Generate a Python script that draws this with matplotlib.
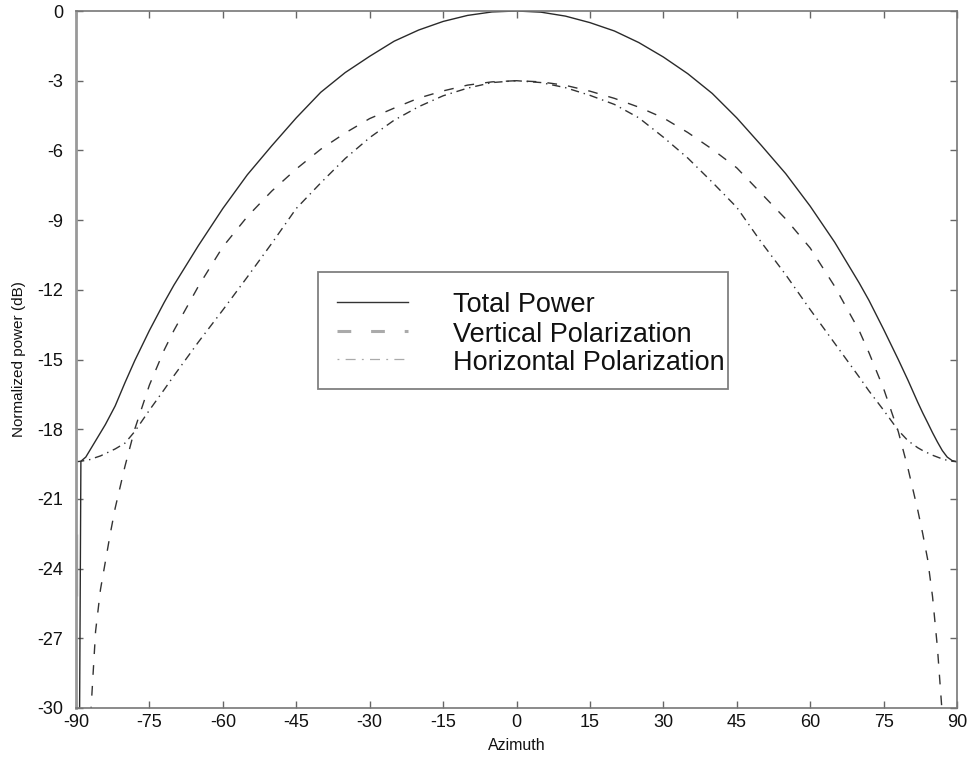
import matplotlib
matplotlib.use("Agg")
import matplotlib.pyplot as plt
from matplotlib.patches import Rectangle
from matplotlib.lines import Line2D

plt.rcParams['font.family'] = ['Liberation Sans', 'DejaVu Sans']

# ---------------- data ----------------
az_left = [-90, -89, -88, -87, -86, -85, -84, -83, -82, -80, -78, -75, -72, -70,
           -65, -60, -55, -50, -45, -40, -35, -30, -25, -20, -15, -10, -5, 0]
total_left = [-60.0, -19.38, -19.2, -18.85, -18.5, -18.15, -17.8, -17.4, -17.0, -16.0,
              -15.05, -13.75, -12.55, -11.8, -10.1, -8.5, -7.05, -5.8, -4.6, -3.5,
              -2.65, -1.95, -1.3, -0.82, -0.45, -0.19, -0.04, 0.0]
vert_left = [-60.0, -40.0, -33.5, -30.3, -26.7, -24.9, -23.7, -22.5, -21.4, -19.6,
             -18.0, -16.1, -14.6, -13.75, -11.85, -10.15, -8.85, -7.75, -6.8, -5.95,
             -5.25, -4.63, -4.18, -3.75, -3.44, -3.19, -3.05, -3.0]
horiz_left = [-19.4, -19.38, -19.34, -19.3, -19.22, -19.15, -19.05, -18.95, -18.85,
              -18.6, -18.1, -17.18, -16.3, -15.7, -14.25, -12.87, -11.45, -10.0, -8.5,
              -7.4, -6.35, -5.45, -4.7, -4.12, -3.65, -3.32, -3.08, -3.0]

az_right = [5, 10, 15, 20, 25, 30, 35, 40, 45, 50, 55, 60, 65, 70, 72, 75, 78, 80,
            82, 83, 84, 85, 86, 87, 88, 89, 90]
total_right = [-0.05, -0.22, -0.5, -0.86, -1.36, -1.98, -2.7, -3.55, -4.6, -5.78,
               -7.0, -8.4, -9.95, -11.7, -12.45, -13.7, -15.0, -15.9, -16.85,
               -17.3, -17.72, -18.15, -18.55, -18.92, -19.2, -19.35, -19.4]
vert_right = [-3.05, -3.2, -3.45, -3.76, -4.14, -4.6, -5.23, -5.95, -6.75, -7.85,
              -8.95, -10.2, -11.85, -13.75, -14.7, -16.25, -18.1, -19.7, -21.5,
              -22.5, -23.6, -25.2, -27.4, -30.3, -34.0, -40.0, -60.0]
horiz_right = [-3.08, -3.3, -3.63, -4.02, -4.6, -5.43, -6.33, -7.37, -8.45, -9.95,
               -11.35, -12.85, -14.3, -15.75, -16.35, -17.18, -18.05, -18.5, -18.8,
               -18.92, -19.02, -19.12, -19.2, -19.28, -19.34, -19.38, -19.4]

azimuth = az_left + az_right
total_power = total_left + total_right
vertical_pol = vert_left + vert_right
horizontal_pol = horiz_left + horiz_right

# grey trace lying on the left axis in the reference
edge_trace_az = [-90, -90]
edge_trace_db = [-22.5, -25.2]

series_labels = ['Total Power', 'Vertical Polarization', 'Horizontal Polarization']
x_ticks = [-90, -75, -60, -45, -30, -15, 0, 15, 30, 45, 60, 75, 90]
y_ticks = [-30, -27, -24, -21, -18, -15, -12, -9, -6, -3, 0]

# ---------------- figure ----------------
fig = plt.figure(figsize=(9.69, 7.57), dpi=100)
ax = fig.add_axes([76 / 969, 1 - 708 / 757, (957 - 76) / 969, (708 - 11) / 757])

ax.plot(edge_trace_az, edge_trace_db, color='#bbbbbb', lw=2.5, solid_capstyle='butt', zorder=1)

dash_style = (0, (7, 8))
dashdot_style = (0, (6, 3.5, 1, 3.5))
ax.plot(azimuth, total_power, color='#2a2a2a', lw=1.0, ls='-')
ax.plot(azimuth, vertical_pol, color='#333333', lw=1.0, ls=dash_style)
ax.plot(azimuth, horizontal_pol, color='#333333', lw=1.0, ls=dashdot_style)

ax.set_xlim(-90, 90)
ax.set_ylim(-30, 0)
ax.set_xticks(x_ticks)
ax.set_yticks(y_ticks)
ax.set_xticklabels([str(v) for v in x_ticks])
ax.set_yticklabels([str(v) for v in y_ticks])

for side, sp in ax.spines.items():
    sp.set_color('#777777')
    sp.set_linewidth(1.2)
ax.spines['left'].set_linewidth(2.0)
ax.spines['left'].set_color('#999999')

ax.tick_params(axis='both', which='both', direction='in', length=5, width=1.0,
               color='#666666', top=True, right=True, labelsize=13, labelcolor='#111111')
ax.tick_params(axis='x', pad=4)
ax.tick_params(axis='y', pad=9)

ax.set_xlabel('Azimuth', fontsize=11.5, labelpad=5, color='#111111')
ax.set_ylabel('Normalized power (dB)', fontsize=11, labelpad=8, color='#111111')

# ---------------- legend (drawn in axes fraction) ----------------
box = Rectangle((0.2747, 0.4577), 0.740 - 0.2747, 0.6255 - 0.4577, transform=ax.transAxes,
                facecolor='white', edgecolor='#808080', lw=1.3, zorder=5)
ax.add_patch(box)
hx0, hx1 = 0.2963, 0.3768
row_line_y = [0.5825, 0.5409, 0.5007]
row_text_y = [0.5681, 0.5251, 0.4849]
handle_styles = [
    dict(color='#333333', lw=1.0, ls='-'),
    dict(color='#aaaaaa', lw=2.2, ls=(0, (4.5, 6.5))),
    dict(color='#aaaaaa', lw=0.9, ls=(0, (1.5, 5, 8, 5))),
]
for lbl, ly, ty, st in zip(series_labels, row_line_y, row_text_y, handle_styles):
    ax.add_line(Line2D([hx0, hx1], [ly, ly], transform=ax.transAxes, zorder=6, **st))
    ax.text(0.4279, ty, lbl, transform=ax.transAxes, fontsize=19.5, va='baseline',
            ha='left', color='#111111', zorder=6)

fig.savefig('out.png', dpi=100)
